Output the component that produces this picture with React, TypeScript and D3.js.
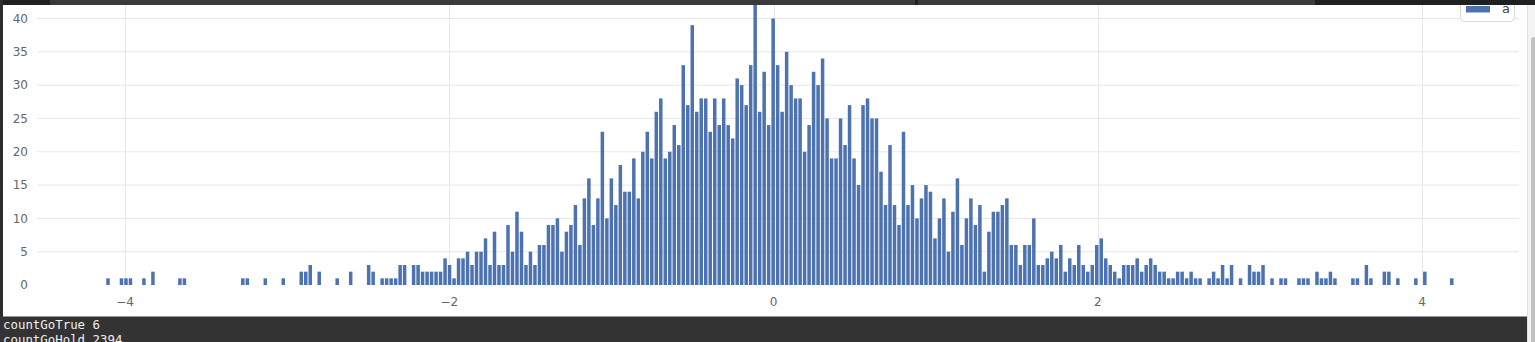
import React from "react";
import * as d3 from "d3";

// Histogram counts (300 equal-width bins)
const counts: number[] = [
  1, 0, 0, 1, 1, 1, 0, 0, 1, 0,
  2, 0, 0, 0, 0, 0, 1, 1, 0, 0,
  0, 0, 0, 0, 0, 0, 0, 0, 0, 0,
  1, 1, 0, 0, 0, 1, 0, 0, 0, 1,
  0, 0, 0, 2, 2, 3, 0, 2, 0, 0,
  0, 1, 0, 0, 2, 0, 0, 0, 3, 2,
  0, 1, 1, 1, 1, 3, 3, 0, 3, 3,
  2, 2, 2, 2, 2, 4, 3, 1, 4, 4,
  5, 3, 5, 5, 7, 3, 8, 3, 3, 9,
  5, 11, 8, 3, 5, 3, 6, 6, 9, 9,
  10, 5, 8, 9, 12, 6, 13, 16, 9, 13,
  23, 10, 16, 12, 18, 14, 14, 19, 13, 20,
  23, 19, 26, 28, 19, 20, 24, 21, 33, 27,
  39, 26, 28, 28, 23, 28, 24, 28, 24, 22,
  31, 30, 27, 33, 43, 26, 32, 24, 40, 33,
  26, 35, 30, 28, 28, 20, 24, 32, 30, 34,
  25, 19, 19, 25, 21, 27, 19, 15, 27, 28,
  25, 25, 17, 12, 21, 12, 9, 23, 12, 15,
  10, 13, 15, 14, 7, 10, 13, 5, 11, 16,
  6, 10, 13, 9, 12, 2, 8, 11, 11, 12,
  13, 6, 6, 3, 6, 6, 10, 3, 3, 4,
  5, 4, 6, 2, 4, 3, 6, 3, 2, 3,
  6, 7, 4, 3, 2, 1, 3, 3, 3, 4,
  2, 3, 4, 3, 2, 2, 1, 1, 2, 2,
  1, 2, 1, 1, 0, 1, 2, 1, 3, 1,
  3, 0, 1, 0, 3, 2, 2, 3, 0, 1,
  0, 1, 1, 0, 0, 1, 1, 1, 0, 2,
  1, 1, 2, 1, 0, 0, 0, 1, 1, 0,
  3, 1, 0, 0, 2, 2, 0, 1, 0, 0,
  0, 1, 0, 2, 0, 0, 0, 0, 0, 1,
];
const dataMin = -4.119;
const dataMax = 4.197;
const xTicks: number[] = [-4, -2, 0, 2, 4];
const yTicks: number[] = [0, 5, 10, 15, 20, 25, 30, 35, 40];
const seriesName = "a";
const consoleLines: string[] = ["countGoTrue 6", "countGoHold 2394"];

const W = 1535;
const H = 342;
const BLUE = "#4c72b0";

export default function App() {
  const x = d3.scaleLinear().domain([-4.543, 4.573]).range([37, 1515]);
  const y = d3.scaleLinear().domain([0, 40]).range([285, 18.5]);
  const bw = (dataMax - dataMin) / counts.length;
  const bins = counts.map((c, i) => ({ x0: dataMin + i * bw, x1: dataMin + (i + 1) * bw, c }));
  const axisFont = "'DejaVu Sans', sans-serif";

  return (
    <div style={{ position: "absolute", left: 0, top: 0 }}>
      <svg width={W} height={H} style={{ display: "block" }}>
        <rect x={0} y={0} width={W} height={H} fill="#ffffff" />
        {/* horizontal gridlines */}
        {yTicks.filter((t) => t > 0).map((t) => (
          <line key={"hg" + t} x1={37} x2={1519} y1={y(t)} y2={y(t)} stroke="#e8e8e8" strokeWidth={1} />
        ))}
        {/* vertical gridlines */}
        {xTicks.map((t) => (
          <line key={"vg" + t} x1={Math.round(x(t)) + 0.5} x2={Math.round(x(t)) + 0.5} y1={5} y2={285} stroke="#e8e8e8" strokeWidth={1} />
        ))}
        {/* bars */}
        {bins.filter((b) => b.c > 0).map((b, i) => (
          <rect
            key={"b" + i}
            x={x(b.x0) + 0.5}
            y={y(b.c)}
            width={Math.max(0, x(b.x1) - x(b.x0) - 1)}
            height={y(0) - y(b.c)}
            fill={BLUE}
          />
        ))}
        {/* y tick labels */}
        {yTicks.map((t) => (
          <text key={"yl" + t} x={28} y={y(t)} dy="0.35em" textAnchor="end" fontFamily={axisFont} fontSize={12} fill="#666">
            {t}
          </text>
        ))}
        {/* x tick labels */}
        {xTicks.map((t) => (
          <text key={"xl" + t} x={x(t)} y={306} textAnchor="middle" fontFamily={axisFont} fontSize={12} fill="#666">
            {t < 0 ? "\u2212" + Math.abs(t) : String(t)}
          </text>
        ))}
        {/* legend */}
        <rect x={1460.5} y={-10} width={54} height={31.5} rx={4} fill="#fff" stroke="#d8d8d8" />
        <rect x={1466} y={6} width={24} height={6.5} fill={BLUE} />
        <text x={1502} y={13} fontFamily={axisFont} fontSize={13} fill="#444">{seriesName}</text>
        {/* frame: top band */}
        <rect x={0} y={0} width={W} height={5} fill="#202020" />
        <rect x={50} y={0} width={865} height={5} fill="#3a3a3a" />
        <rect x={918} y={0} width={397} height={5} fill="#3a3a3a" />
        {/* left strip */}
        <rect x={0} y={0} width={3} height={H} fill="#2d2d2d" />
        {/* right scrollbar */}
        <rect x={1527} y={5} width={8} height={H - 5} fill="#f3f3f3" />
        <line x1={1527.5} x2={1527.5} y1={5} y2={H} stroke="#e0e0e0" />
        <rect x={1531} y={37} width={6} height={H} rx={3} fill="#c1c1c1" />
        {/* bottom console */}
        <rect x={0} y={316.5} width={1527} height={H - 316.5} fill="#333333" />
        {consoleLines.map((s, i) => (
          <text key={"c" + i} x={3} y={328.5 + i * 15} fontFamily="'DejaVu Sans Mono', monospace" fontSize={12.4} fill="#f0f0f0">
            {s}
          </text>
        ))}
      </svg>
    </div>
  );
}
